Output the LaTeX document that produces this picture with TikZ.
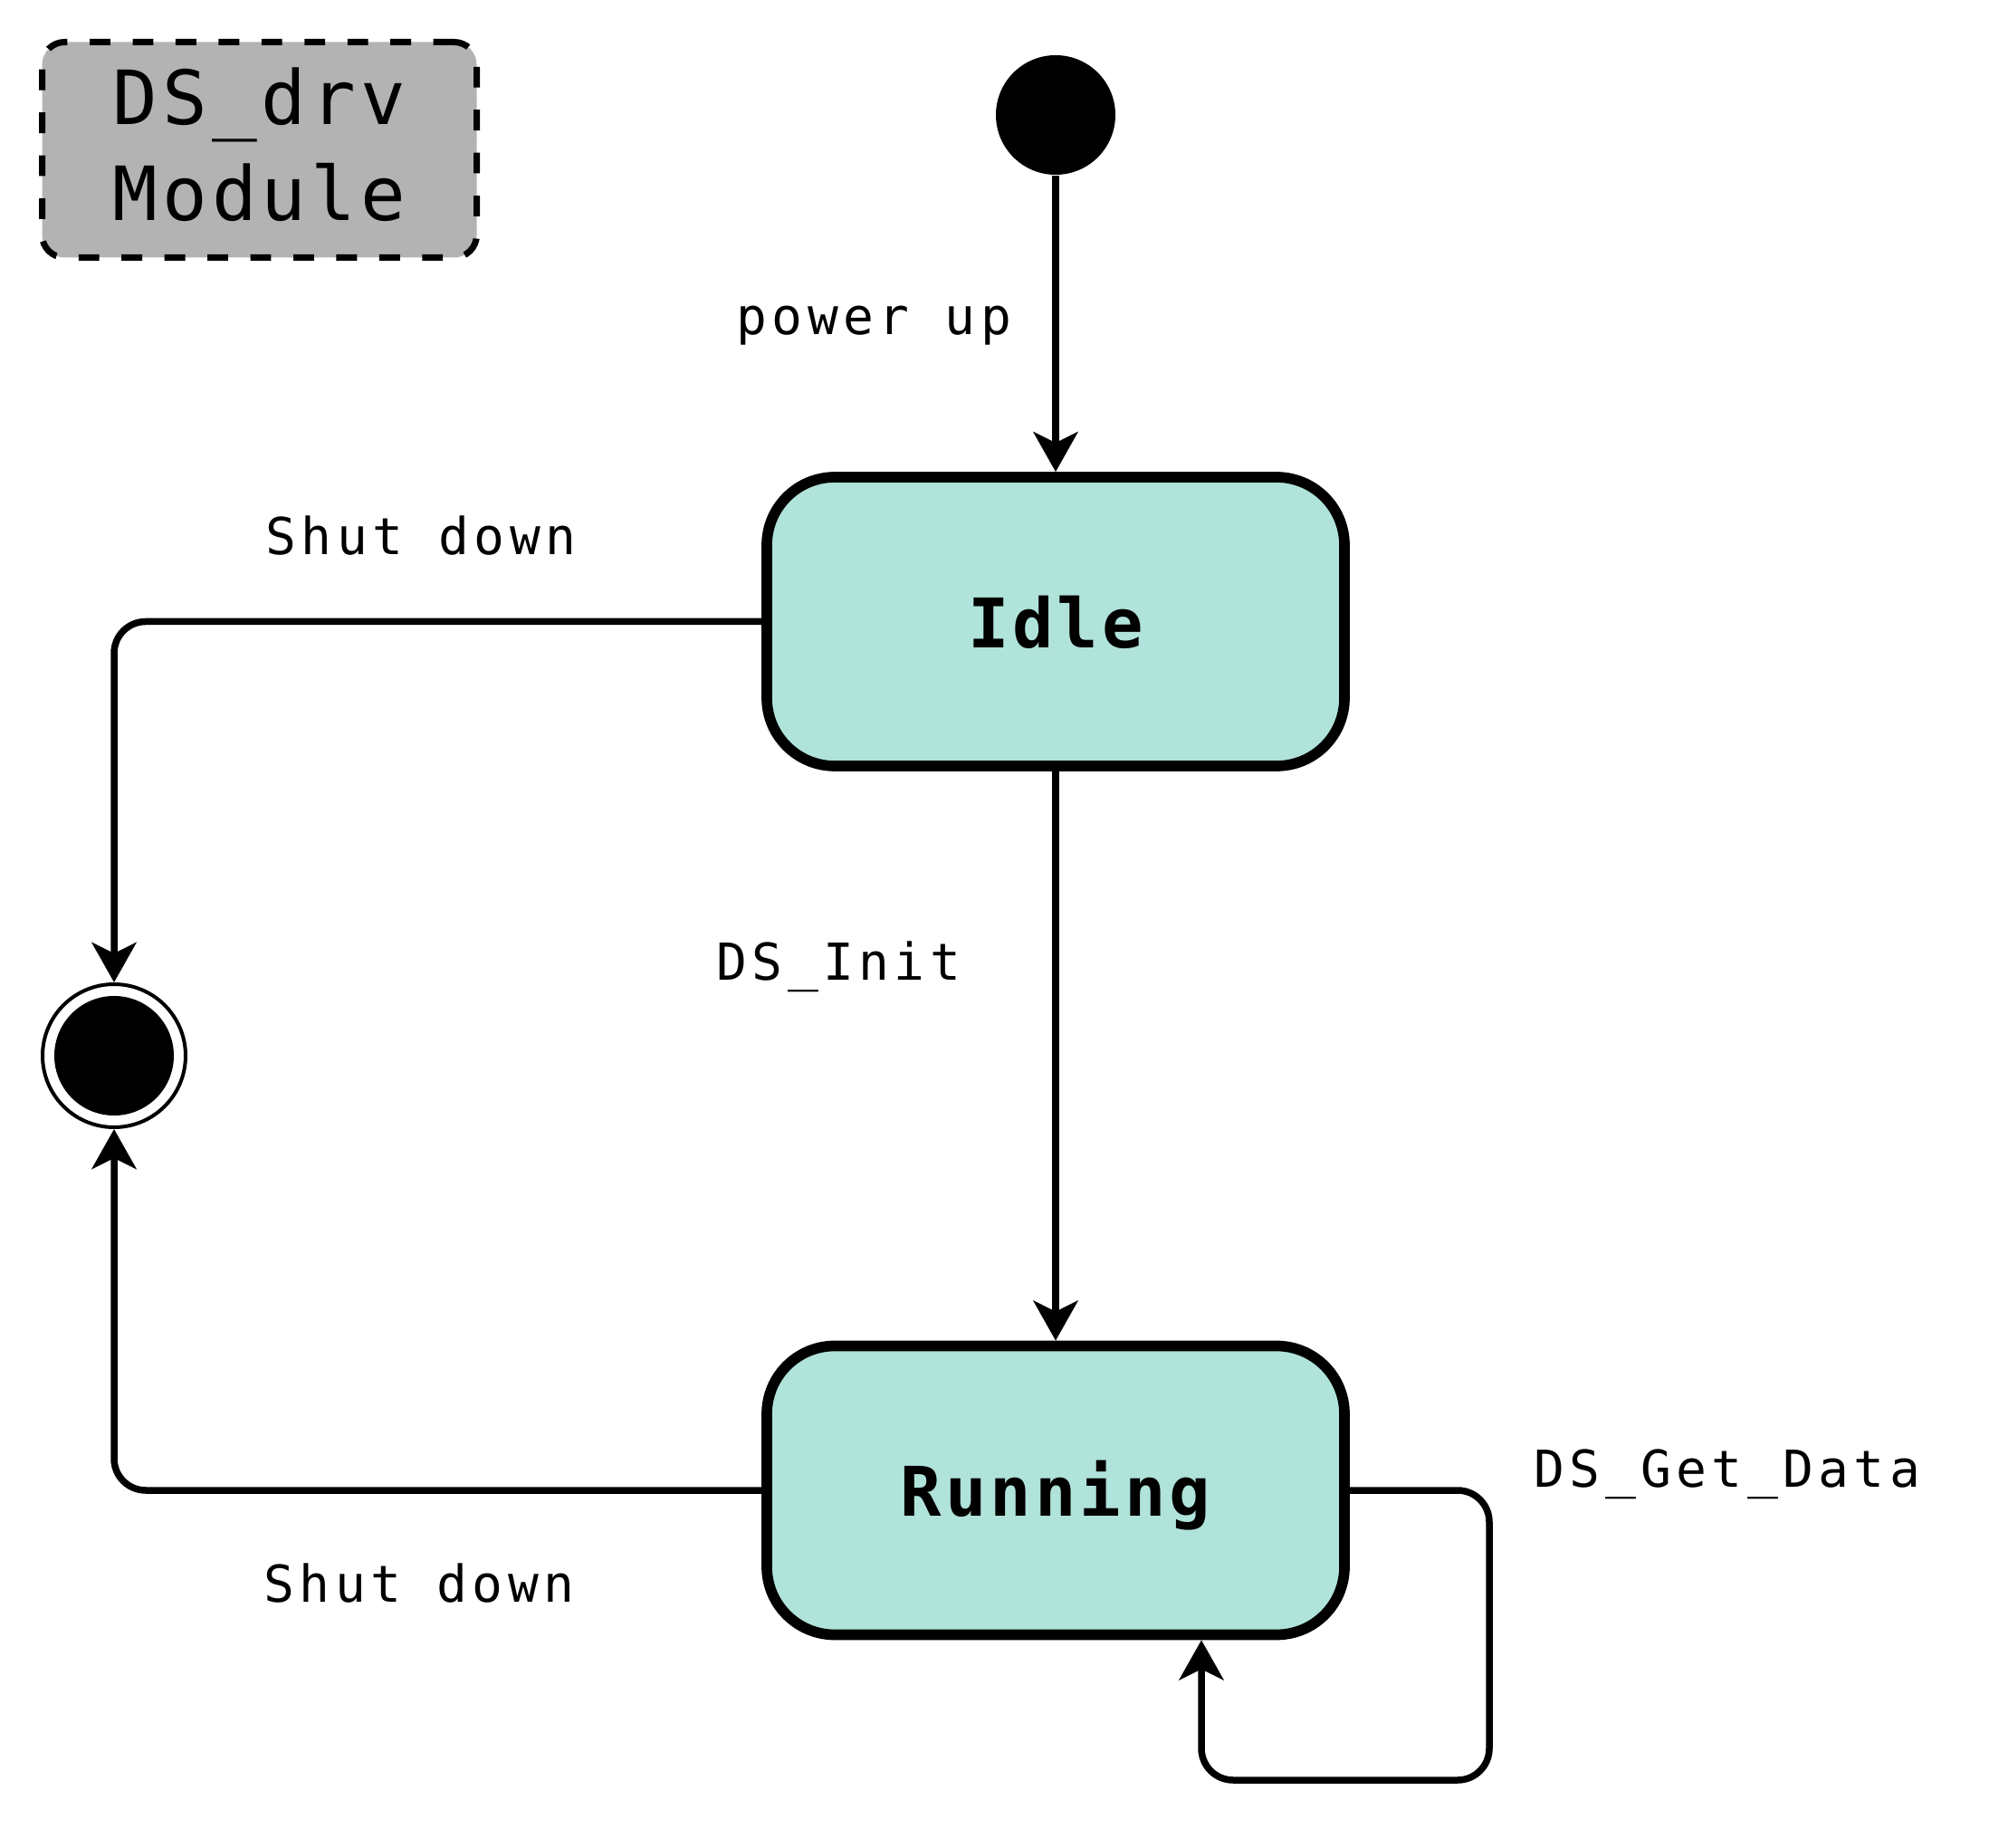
\documentclass[tikz,border=0pt]{standalone}
\usepackage{xcolor}
\usepackage{fontspec}
\usetikzlibrary{arrows.meta}

\definecolor{stategreen}{HTML}{B0E3DA}
\definecolor{modgray}{HTML}{B3B3B3}
\newfontfamily\lblfont[LetterSpace=9.6]{DejaVu Sans Mono}
\newfontfamily\stfont[LetterSpace=5.2]{DejaVu Sans Mono}
\newfontfamily\modfont[LetterSpace=6.2]{DejaVu Sans Mono}

\begin{document}
\begin{tikzpicture}[
    stbox/.style={rectangle, rounded corners=0.75cm, draw, line width=0.117cm,
      fill=stategreen, minimum width=6.38cm, minimum height=3.19cm,
      text height=16.3pt, text depth=0pt,
      font=\stfont\bfseries\fontsize{21.5}{26}\selectfont},
    modbox/.style={rectangle, rounded corners=0.25cm, draw, dash pattern=on 6.5pt off 7pt,
      line width=0.07cm, fill=modgray, minimum width=4.80cm, minimum height=2.38cm,
      align=center, text depth=0.12cm, font=\modfont\fontsize{23.5}{30.2}\selectfont},
    startdot/.style={circle, fill=black, minimum size=1.32cm, inner sep=0pt},
    enddot/.style={circle, draw, line width=0.04cm, minimum size=1.58cm, inner sep=0pt,
      path picture={\fill (path picture bounding box.center) circle (0.66cm);}},
    lbl/.style={anchor=base west, inner sep=0pt, font=\lblfont\fontsize{16}{19}\selectfont},
    conn/.style={line width=0.075cm, rounded corners=0.35cm,
      -{Stealth[length=0.44cm,width=0.49cm,inset=0.12cm]}}
  ]
  \useasboundingbox (0,0) rectangle (22.08,20.40);

  \node[modbox] (module) at (2.865,18.745) {DS\_drv\\Module};

  \node[startdot] (start) at (11.66,19.13) {};
  \node[stbox] (idle) at (11.66,13.535) {Idle};
  \node[stbox] (running) at (11.66,3.94) {Running};
  \node[enddot] (stop) at (1.26,8.74) {};

  \coordinate (loopcorner) at (16.45,0.74);
  \coordinate (loopin) at (13.27,0.74);

  \draw[conn] (start) -- (idle);
  \draw[conn] (idle) -- (running);
  \draw[conn] (idle.west) -| (stop.north);
  \draw[conn] (running.west) -| (stop.south);
  \draw[conn] (running.east) -| (loopcorner) -| (loopin |- running.south);

  \node[lbl] (lblpower) at (8.13,16.70) {power up};
  \node[lbl] (lblshuttop) at (2.93,14.27) {Shut down};
  \node[lbl] (lblinit) at (7.91,9.57) {DS\_Init};
  \node[lbl] (lblshutbot) at (2.91,2.71) {Shut down};
  \node[lbl] (lblget) at (16.94,3.98) {DS\_Get\_Data};
\end{tikzpicture}
\end{document}
